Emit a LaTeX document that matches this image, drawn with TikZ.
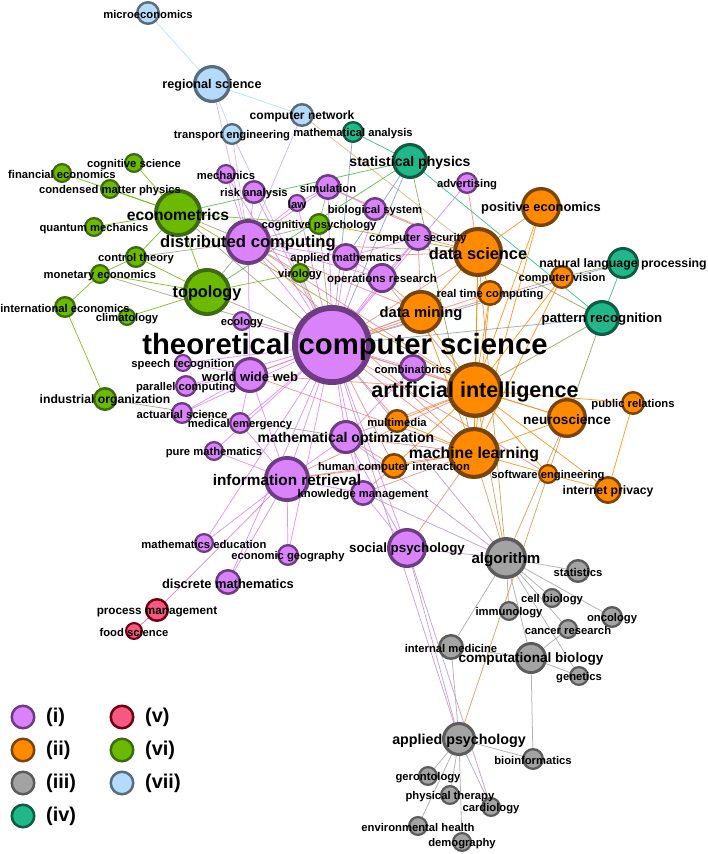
\documentclass[tikz,border=0pt]{standalone}
\usepackage{fontspec}
\setmainfont{Liberation Sans}
\usetikzlibrary{backgrounds}

% group colours
\definecolor{fillP}{RGB}{218,130,250}
\definecolor{lineP}{RGB}{110,60,130}
\definecolor{fillO}{RGB}{255,138,0}
\definecolor{lineO}{RGB}{122,68,8}
\definecolor{fillA}{RGB}{163,163,163}
\definecolor{lineA}{RGB}{92,92,92}
\definecolor{fillT}{RGB}{32,184,138}
\definecolor{lineT}{RGB}{16,92,66}
\definecolor{fillR}{RGB}{245,88,128}
\definecolor{lineR}{RGB}{112,0,20}
\definecolor{fillG}{RGB}{108,186,0}
\definecolor{lineG}{RGB}{62,106,18}
\definecolor{fillB}{RGB}{180,220,250}
\definecolor{lineB}{RGB}{88,108,124}

\tikzset{
  topic/.style={circle, inner sep=0pt, fill=fill#1, draw=line#1},
  rad/.style={minimum size=(1.88*#1-1)*0.03cm, line width=(1+0.12*#1)*0.03cm},
  lbl/.style={inner sep=0pt, text=black},
  l-tcs/.style={xshift=0.39cm},
  link/.style 2 args={draw=fill#1!50!fill#2, line width=0.65pt, draw opacity=0.85}
}

% name/x/y/radius/group/font size/label
\def\topics{
  mic/148/13/12/B/9.6/microeconomics,
  reg/212/84/19/B/10.8/regional science,
  cnet/302/115/12/B/10.3/computer network,
  teng/232/134/11/B/9.6/transport engineering,
  manal/353/132/11/T/9.6/mathematical analysis,
  sphys/410/161/18/T/12/statistical physics,
  adv/467/183/11/P/9.6/advertising,
  poseco/541/207/20/O/11/positive economics,
  dsci/478/252/25/O/14/data science,
  cvis/562/277/12/O/9.6/computer vision,
  nlp/623/263/16/T/10.5/natural language processing,
  rtc/490/293/13/O/9.6/real time computing,
  dmin/421/312/22/O/12.6/data mining,
  patt/602/318/18/T/11.3/pattern recognition,
  csec/418/237/14/P/9.6/computer security,
  opres/382/278/15/P/9.8/operations research,
  biosys/375/209/12/P/9.6/biological system,
  sim/328/187/13/P/9.6/simulation,
  law/297/203/9/P/9.6/law,
  risk/254/192/12/P/9.6/risk analysis,
  mech/226/174/10/P/9.6/mechanics,
  cogpsy/319/224/11/G/9.6/cognitive psychology,
  dcomp/248/242/23/P/14.2/distributed computing,
  amath/346/257/14/P/9.6/applied mathematics,
  viro/300/273/10/G/9.6/virology,
  ecmx/178/213/24/G/13.4/econometrics,
  cogsci/134/163/10/G/9.6/cognitive science,
  fineco/62/173/10/G/9.6/financial economics,
  cmp/110/189/10/G/9.6/condensed matter physics,
  qmech/94/227/10/G/9.6/quantum mechanics,
  ctrl/136/257/11/G/9.6/control theory,
  moneco/100/274/10/G/9.6/monetary economics,
  topo/207/292/24/G/13.9/topology,
  inteco/65/307/11/G/9.6/international economics,
  clim/127/317/9/G/9.6/climatology,
  eco/242/321/10/P/9.6/ecology,
  tcs/332/345/40/P/25/theoretical computer science,
  speech/183/363/9/P/9.6/speech recognition,
  www/250/375/18/P/11.1/world wide web,
  parc/186/386/11/P/9.6/parallel computing,
  act/182/413/11/P/9.6/actuarial science,
  indorg/105/399/12/G/10.4/industrial organization,
  medem/240/423/11/P/9.6/medical emergency,
  comb/413/368/14/P/9.6/combinatorics,
  ai/475/390/28/O/18.4/artificial intelligence,
  mmed/397/421/12/O/9.6/multimedia,
  mopt/346/437/17/P/12/mathematical optimization,
  ml/474/453/26/O/13.5/machine learning,
  hci/394/466/13/O/9.6/human computer interaction,
  neuro/567/418/20/O/11.6/neuroscience,
  pubrel/633/403/12/O/9.6/public relations,
  softe/548/474/10/O/9.6/software engineering,
  iprv/608/490/14/O/10.4/internet privacy,
  ir/287/479/23/P/13.1/information retrieval,
  km/363/493/13/P/9.6/knowledge management,
  puremath/214/451/10/P/9.6/pure mathematics,
  socpsy/407/548/20/P/11.4/social psychology,
  mathedu/204/543/10/P/9.6/mathematics education,
  ecogeo/288/555/11/P/9.6/economic geography,
  dmath/228/582/13/P/11/discrete mathematics,
  procm/157/610/12/R/10/process management,
  food/134/631/9/R/9.6/food science,
  algo/506/558/21/A/12.9/algorithm,
  stat/578/571/12/A/9.6/statistics,
  cellb/552/598/10/A/9.6/cell biology,
  immu/509/611/10/A/9.6/immunology,
  onco/612/617/11/A/9.6/oncology,
  cancer/568/629/10/A/9.6/cancer research,
  intmed/451/647/13/A/9.6/internal medicine,
  compbio/531/658/16/A/11.6/computational biology,
  gene/579/676/10/A/9.6/genetics,
  apsy/459/739/17/A/12.2/applied psychology,
  bioinf/533/759/11/A/9.6/bioinformatics,
  geron/428/776/10/A/9.6/gerontology,
  phys/450/795/10/A/9.6/physical therapy,
  cardio/491/807/10/A/9.6/cardiology,
  envh/418/826/10/A/9.6/environmental health,
  demo/462/842/10/A/9.6/demography
}

\begin{document}
\begin{tikzpicture}[x=0.03cm, y=-0.03cm]
    \useasboundingbox (0, 0) rectangle (708, 854);

    % Topics
    \foreach \n/\x/\y/\r/\g/\s/\t in \topics
      \node [topic=\g, rad=\r] (\n) at (\x, \y) {};

    % Labels
    \foreach \n/\x/\y/\r/\g/\s/\t in \topics
      \node [lbl, l-\n/.try, font=\fontsize{\s}{\s}\selectfont\bfseries] (l-\n) at (\x, \y+1.5) {\t};

    % Links
    \begin{pgfonlayer}{background}
      \foreach \a/\b in {mic/reg, reg/cnet, reg/teng}
        \draw [link={B}{B}] (\a) -- (\b);
      \foreach \a/\b in {reg/dcomp, teng/dcomp, teng/tcs, cnet/dcomp}
        \draw [link={P}{B}] (\a) -- (\b);
      \draw [link={O}{B}] (cnet) -- (dsci);
      \foreach \a/\b in {manal/sphys, sphys/patt, nlp/patt}
        \draw [link={T}{T}] (\a) -- (\b);
      \foreach \a/\b in {manal/tcs, sphys/amath, sphys/tcs, nlp/tcs, patt/tcs}
        \draw [link={P}{T}] (\a) -- (\b);
      \foreach \a/\b in {sphys/ecmx, sphys/topo}
        \draw [link={G}{T}] (\a) -- (\b);
      \foreach \a/\b in {sphys/ml, dsci/patt, patt/neuro, patt/ai, nlp/cvis}
        \draw [link={O}{T}] (\a) -- (\b);
      \foreach \a/\b in {fineco/ecmx, cmp/ecmx, cogsci/ecmx, qmech/ecmx, ctrl/ecmx,
          ctrl/topo, ctrl/moneco, moneco/inteco, moneco/topo, inteco/indorg,
          clim/topo, topo/ecmx, topo/viro, ecmx/cogpsy}
        \draw [link={G}{G}] (\a) -- (\b);
      \foreach \a/\b in {ctrl/dcomp, moneco/tcs, topo/dcomp, topo/tcs, ecmx/dcomp,
          ecmx/tcs, cogpsy/tcs, viro/tcs, indorg/mopt, cogpsy/dcomp, viro/dcomp,
          cogpsy/sim}
        \draw [link={P}{G}] (\a) -- (\b);
      \foreach \a/\b in {ecmx/ai, cogpsy/dsci}
        \draw [link={O}{G}] (\a) -- (\b);
      \foreach \a/\b in {tcs/dcomp, tcs/www, tcs/ir, tcs/mopt, tcs/socpsy, tcs/comb,
          tcs/opres, tcs/amath, tcs/sim, tcs/risk, tcs/mech, tcs/law, tcs/biosys,
          tcs/csec, tcs/eco, tcs/speech, tcs/parc, tcs/act, tcs/medem, tcs/puremath,
          tcs/km, tcs/ecogeo, tcs/mathedu, tcs/dmath, tcs/adv,
          dcomp/risk, dcomp/mech, dcomp/sim, dcomp/law, dcomp/www, dcomp/amath,
          dcomp/opres, www/parc, www/act, www/speech, www/ir, www/medem,
          ir/mopt, ir/km, ir/mathedu, ir/ecogeo, ir/dmath, ir/puremath, ir/medem,
          mopt/km, mopt/socpsy, mopt/comb, socpsy/km, amath/opres, sim/law,
          sim/biosys, csec/opres, amath/csec}
        \draw [link={P}{P}] (\a) -- (\b);
      \foreach \a/\b in {tcs/ai, tcs/ml, tcs/dmin, tcs/dsci, tcs/rtc, tcs/mmed,
          tcs/hci, tcs/cvis, tcs/neuro, tcs/softe, dcomp/dsci, dcomp/dmin, dcomp/ai,
          dcomp/ml, www/ai, www/dmin, www/ml, ir/ml, ir/ai, ir/hci, mopt/ml, mopt/ai,
          mopt/hci, km/ml, km/hci, socpsy/ml, comb/ai, opres/dmin, opres/ai,
          amath/dsci, csec/dsci, csec/dmin, sim/dsci, biosys/dsci, adv/dsci}
        \draw [link={P}{O}] (\a) -- (\b);
      \foreach \a/\b in {dsci/ai, dsci/ml, dsci/dmin, dsci/rtc, dsci/poseco,
          poseco/ai, poseco/ml, dmin/ai, dmin/ml, rtc/ai, rtc/ml, cvis/ai, cvis/ml,
          ai/ml, ai/neuro, ai/pubrel, ai/mmed, ai/hci, ai/softe, ml/neuro, ml/softe,
          ml/hci, ml/mmed, softe/iprv, pubrel/iprv, ai/iprv}
        \draw [link={O}{O}] (\a) -- (\b);
      \foreach \a/\b in {ai/algo, ml/algo, neuro/algo, apsy/neuro, dsci/algo}
        \draw [link={O}{A}] (\a) -- (\b);
      \foreach \a/\b in {tcs/algo, tcs/apsy, socpsy/algo, socpsy/apsy, mopt/algo,
          km/algo, socpsy/cardio}
        \draw [link={P}{A}] (\a) -- (\b);
      \foreach \a/\b in {algo/stat, algo/cellb, algo/immu, algo/onco, algo/cancer,
          algo/intmed, algo/compbio, algo/gene, compbio/intmed, compbio/cancer,
          compbio/gene, compbio/bioinf, intmed/apsy, apsy/bioinf, apsy/geron,
          apsy/phys, apsy/cardio, apsy/envh, apsy/demo}
        \draw [link={A}{A}] (\a) -- (\b);
      \draw [link={P}{R}] (ir) -- (procm);
      \draw [link={R}{R}] (procm) -- (food);
    \end{pgfonlayer}

    % Legend
    \foreach \g/\x/\y/\t [count=\i] in {P/23/717/(i), O/23/750/(ii), A/23/783/(iii),
        T/23/816/(iv), R/122/717/(v), G/122/750/(vi), B/122/783/(vii)} {
      \node [topic=\g, rad=12.5] (key\i) at (\x, \y) {};
      \node [lbl, anchor=west, font=\fontsize{17}{17}\selectfont\bfseries]
        (key\i-l) at (\x+23, \y) {\t};
    }
\end{tikzpicture}
\end{document}
